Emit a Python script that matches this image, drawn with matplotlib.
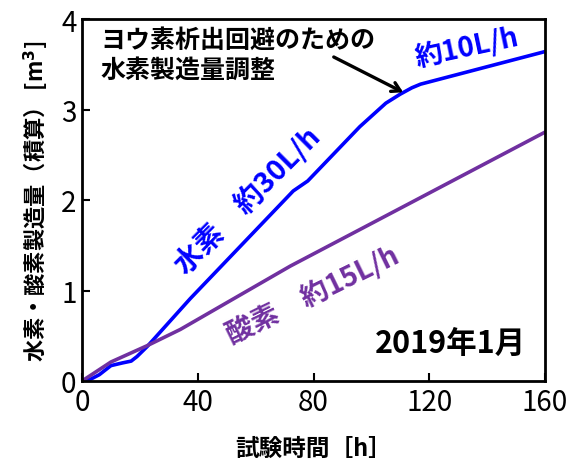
import matplotlib
matplotlib.use("Agg")
import matplotlib.pyplot as plt

plt.rcParams['font.family'] = ['Noto Sans CJK JP', 'DejaVu Sans']

# cumulative production [m3] vs elapsed test time [h]
h2_time = [0, 3, 6, 10, 14, 17, 19, 22.5, 37.4, 73, 78, 96, 105, 110, 114, 117, 160]
h2_vol = [0, 0.02, 0.07, 0.17, 0.20, 0.22, 0.27, 0.38, 0.91, 2.10, 2.21, 2.81, 3.07, 3.17, 3.24, 3.28, 3.64]
o2_time = [0, 10, 22.5, 34, 72, 97, 160]
o2_vol = [0, 0.21, 0.39, 0.57, 1.27, 1.69, 2.75]

x_ticks = [0, 40, 80, 120, 160]
y_ticks = [0, 1, 2, 3, 4]

blue = '#0000FF'
purple = '#7030A0'

fig = plt.figure(figsize=(5.72, 4.64), dpi=100)
ax = fig.add_axes([82 / 572, 1 - 382 / 464, (545 - 82) / 572, (382 - 20) / 464])

ax.plot(h2_time, h2_vol, color=blue, lw=2.6, solid_capstyle='round')
ax.plot(o2_time, o2_vol, color=purple, lw=2.6, solid_capstyle='round')

ax.set_xlim(0, 160)
ax.set_ylim(0, 4)
ax.set_xticks(x_ticks)
ax.set_yticks(y_ticks)
ax.tick_params(direction='in', length=6, width=1.5, labelsize=20, pad=4,
               top=False, right=False)
for s in ax.spines.values():
    s.set_linewidth(2)

ax.set_xlabel('試験時間［h］', fontsize=17, fontweight='bold', labelpad=14)
ax.set_ylabel('水素・酸素製造量（積算） [m$^\\mathbf{3}$]', fontsize=16,
              fontweight='bold', labelpad=8)

ax.text(6.5, 3.9, 'ヨウ素析出回避のための\n水素製造量調整', fontsize=18,
        fontweight='bold', va='top', ha='left', linespacing=1.3)
ax.annotate('', xy=(111, 3.19), xytext=(87, 3.58),
            arrowprops=dict(arrowstyle='->,head_length=0.6,head_width=0.35',
                            color='black', lw=2.4, shrinkA=0, shrinkB=0))

ax.text(133, 3.69, '約10L/h', color=blue, fontsize=20, fontweight='bold',
        rotation=12, ha='center', va='center')
ax.text(57, 2.01, '水素　約30L/h', color=blue, fontsize=20.5, fontweight='bold',
        rotation=45, ha='center', va='center')
ax.text(79.6, 0.96, '酸素　約15L/h', color=purple, fontsize=20, fontweight='bold',
        rotation=26, ha='center', va='center')
ax.text(127.3, 0.42, '2019年1月', color='black', fontsize=22, fontweight='bold',
        ha='center', va='center')

fig.savefig('out.png', dpi=100)
